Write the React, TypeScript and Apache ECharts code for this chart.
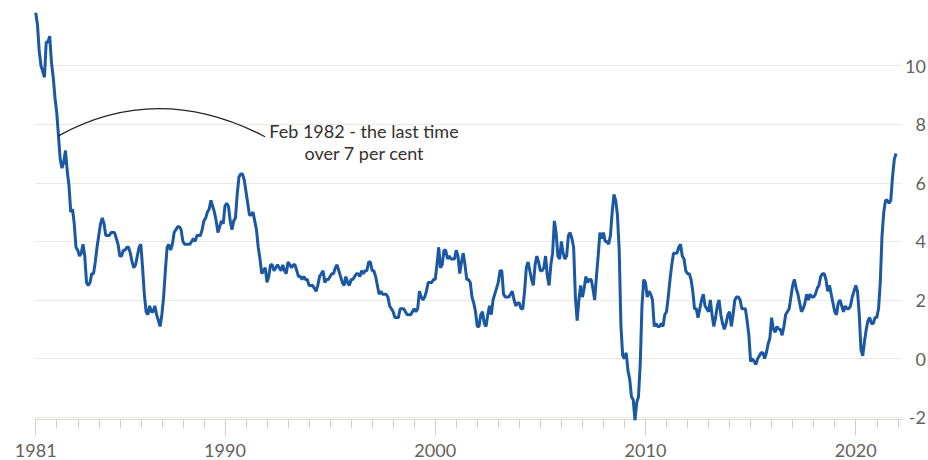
import React, { useEffect, useRef } from "react";
import * as echarts from "echarts";

// US consumer price inflation, year-on-year %, monthly, Jan 1981 - Dec 2021
const cpi1980s = [
  11.8, 11.4, 10.5, 10.0, 9.8, 9.6, 10.8, 10.8, 11.0, 10.1, 9.6, 8.9,
  8.4, 7.6, 6.8, 6.5, 6.7, 7.1, 6.4, 5.9, 5.0, 5.1, 4.6, 3.8,
  3.7, 3.5, 3.6, 3.9, 3.5, 2.6, 2.5, 2.6, 2.9, 2.9, 3.3, 3.8,
  4.2, 4.6, 4.8, 4.6, 4.2, 4.2, 4.2, 4.3, 4.3, 4.3, 4.1, 3.9,
  3.5, 3.5, 3.7, 3.7, 3.8, 3.8, 3.6, 3.3, 3.1, 3.2, 3.5, 3.8,
  3.9, 3.1, 2.2, 1.6, 1.5, 1.8, 1.6, 1.6, 1.8, 1.5, 1.3, 1.1,
  1.5, 2.1, 3.0, 3.8, 3.9, 3.7, 3.9, 4.3, 4.4, 4.5, 4.5, 4.4,
  4.0, 3.9, 3.9, 3.9, 3.9, 4.0, 4.1, 4.0, 4.2, 4.2, 4.2, 4.4,
  4.7, 4.8, 5.0, 5.1, 5.4, 5.2, 5.0, 4.7, 4.3, 4.5, 4.7, 4.6,
];
const cpi1990s = [
  5.2, 5.3, 5.2, 4.7, 4.4, 4.7, 4.8, 5.6, 6.2, 6.3, 6.3, 6.1,
  5.7, 5.3, 4.9, 4.9, 5.0, 4.7, 4.4, 3.8, 3.4, 2.9, 3.0, 3.1,
  2.6, 2.8, 3.2, 3.2, 3.0, 3.1, 3.2, 3.1, 3.0, 3.2, 3.0, 2.9,
  3.3, 3.2, 3.1, 3.2, 3.2, 3.0, 2.8, 2.8, 2.7, 2.8, 2.7, 2.7,
  2.5, 2.5, 2.5, 2.4, 2.3, 2.5, 2.8, 2.9, 3.0, 2.6, 2.7, 2.7,
  2.8, 2.9, 2.9, 3.1, 3.2, 3.0, 2.8, 2.6, 2.5, 2.8, 2.6, 2.5,
  2.7, 2.7, 2.8, 2.9, 2.9, 2.8, 3.0, 2.9, 3.0, 3.0, 3.3, 3.3,
  3.0, 3.0, 2.8, 2.5, 2.2, 2.3, 2.2, 2.2, 2.2, 2.1, 1.8, 1.7,
  1.6, 1.4, 1.4, 1.4, 1.7, 1.7, 1.7, 1.6, 1.5, 1.5, 1.5, 1.6,
  1.7, 1.6, 1.7, 2.3, 2.1, 2.0, 2.1, 2.3, 2.6, 2.6, 2.6, 2.7,
];
const cpi2000s = [
  2.7, 3.2, 3.8, 3.1, 3.2, 3.7, 3.7, 3.4, 3.5, 3.4, 3.4, 3.4,
  3.7, 3.5, 2.9, 3.3, 3.6, 3.2, 2.7, 2.7, 2.6, 2.1, 1.9, 1.6,
  1.1, 1.1, 1.5, 1.6, 1.2, 1.1, 1.5, 1.8, 1.5, 2.0, 2.2, 2.4,
  2.6, 3.0, 3.0, 2.2, 2.1, 2.1, 2.1, 2.2, 2.3, 2.0, 1.8, 1.9,
  1.9, 1.7, 1.7, 2.3, 3.1, 3.3, 3.0, 2.7, 2.5, 3.2, 3.5, 3.3,
  3.0, 3.0, 3.1, 3.5, 2.8, 2.5, 3.2, 3.6, 4.7, 4.3, 3.5, 3.4,
  4.0, 3.6, 3.4, 3.5, 4.2, 4.3, 4.1, 3.8, 2.1, 1.3, 2.0, 2.5,
  2.1, 2.4, 2.8, 2.6, 2.7, 2.7, 2.4, 2.0, 2.8, 3.5, 4.3, 4.1,
  4.3, 4.0, 4.0, 3.9, 4.2, 5.0, 5.6, 5.4, 4.9, 3.7, 1.1, 0.1,
  0.0, 0.2, -0.4, -0.7, -1.3, -1.4, -2.1, -1.5, -1.3, -0.2, 1.8, 2.7,
];
const cpi2010s = [
  2.6, 2.1, 2.3, 2.2, 2.0, 1.1, 1.2, 1.1, 1.1, 1.2, 1.1, 1.5,
  1.6, 2.1, 2.7, 3.2, 3.6, 3.6, 3.6, 3.8, 3.9, 3.5, 3.4, 3.0,
  2.9, 2.9, 2.7, 2.3, 1.7, 1.7, 1.4, 1.7, 2.0, 2.2, 1.8, 1.7,
  1.6, 2.0, 1.5, 1.1, 1.4, 1.8, 2.0, 1.5, 1.2, 1.0, 1.2, 1.5,
  1.6, 1.1, 1.5, 2.0, 2.1, 2.1, 2.0, 1.7, 1.7, 1.7, 1.3, 0.8,
  -0.1, 0.0, -0.1, -0.2, 0.0, 0.1, 0.2, 0.2, 0.0, 0.2, 0.5, 0.7,
  1.4, 1.0, 0.9, 1.1, 1.0, 1.0, 0.8, 1.1, 1.5, 1.6, 1.7, 2.1,
  2.5, 2.7, 2.4, 2.2, 1.9, 1.6, 1.7, 1.9, 2.2, 2.0, 2.2, 2.1,
  2.1, 2.2, 2.4, 2.5, 2.8, 2.9, 2.9, 2.7, 2.3, 2.5, 2.2, 1.9,
  1.6, 1.5, 1.9, 2.0, 1.8, 1.6, 1.8, 1.7, 1.7, 1.8, 2.1, 2.3,
];
const cpi2020s = [
  2.5, 2.3, 1.5, 0.3, 0.1, 0.6, 1.0, 1.3, 1.4, 1.2, 1.2, 1.4,
  1.4, 1.7, 2.6, 4.2, 5.0, 5.4, 5.4, 5.3, 5.4, 6.2, 6.8, 7.0,
];

const startYear = 1981;
const endYear = 2022;
const labelYears = [1981, 1990, 2000, 2010, 2020];
const annotationText = "Feb 1982 - the last time\nover 7 per cent";
const annotationMonthIndex = 13; // Feb 1982

const allValues = [...cpi1980s, ...cpi1990s, ...cpi2000s, ...cpi2010s, ...cpi2020s];
const tickYears: number[] = [];
for (let y = startYear; y <= endYear; y++) tickYears.push(y);

export default function App() {
  const ref = useRef<HTMLDivElement>(null);
  useEffect(() => {
    if (!ref.current) return;
    const chart = echarts.init(ref.current, undefined, { renderer: "svg" });
    const data = allValues.map((v, i) => [startYear + i / 12, v]);
    const axisFont = { fontFamily: "Lato", fontSize: 18, color: "#66605c" };
    chart.setOption({
      animation: false,
      backgroundColor: "#ffffff",
      grid: {
        left: 35.7,
        right: 26,
        top: 65.5,
        bottom: 42.7,
        containLabel: false,
        outerBoundsMode: "none",
      },
      xAxis: [
        {
          type: "value",
          min: startYear,
          max: 2022.2,
          position: "bottom",
          offset: 2,
          axisLine: { show: true, onZero: false, lineStyle: { color: "#dcd6d0", width: 1 } },
          axisTick: { show: true, customValues: tickYears, length: 9, lineStyle: { color: "#d3ccc5", width: 1 } },
          axisLabel: { show: false },
          splitLine: { show: false },
        },
        {
          type: "value",
          min: startYear,
          max: 2022.2,
          position: "bottom",
          offset: 2,
          axisLine: { show: false, onZero: false },
          axisTick: { show: true, customValues: labelYears, length: 16, lineStyle: { color: "#d3ccc5", width: 1 } },
          axisLabel: { show: true, customValues: labelYears, formatter: (v: number) => String(v), margin: 22, ...axisFont },
          splitLine: { show: false },
        },
      ],
      yAxis: {
        type: "value",
        position: "right",
        min: -2,
        max: 10,
        interval: 2,
        axisLine: { show: false },
        axisTick: { show: false },
        axisLabel: {
          ...axisFont,
          align: "right",
          margin: 24,
          padding: [4, 0, 0, 0],
          formatter: (v: number) => String(v),
        },
        splitLine: { show: true, lineStyle: { color: "#ebe7e3", width: 1 } },
      },
      series: [
        {
          type: "line",
          xAxisIndex: 0,
          data,
          showSymbol: false,
          clip: false,
          lineStyle: { color: "#1b58a3", width: 3 },
          z: 5,
        },
      ],
    });
    const p = chart.convertToPixel({ xAxisIndex: 0, yAxisIndex: 0 }, [
      startYear + annotationMonthIndex / 12,
      allValues[annotationMonthIndex],
    ]) as number[];
    const endX = 265;
    const endY = 136.7;
    chart.setOption({
      graphic: [
        {
          type: "bezierCurve",
          shape: { x1: p[0], y1: p[1], x2: endX, y2: endY, cpx1: 157.8, cpy1: 81.1 },
          style: { stroke: "#222222", lineWidth: 1.2, fill: "none" },
          z: 10,
        },
        {
          type: "text",
          x: 364,
          y: 120,
          style: {
            text: annotationText,
            fontFamily: "Lato",
            fontSize: 18,
            lineHeight: 22,
            fill: "#33302e",
            textAlign: "center",
            textVerticalAlign: "top",
          },
          z: 10,
        },
      ],
    });
    return () => chart.dispose();
  }, []);
  return (
    <div
      ref={ref}
      style={{ position: "fixed", left: 0, top: 0, width: 928, height: 460, background: "#fff" }}
    />
  );
}
